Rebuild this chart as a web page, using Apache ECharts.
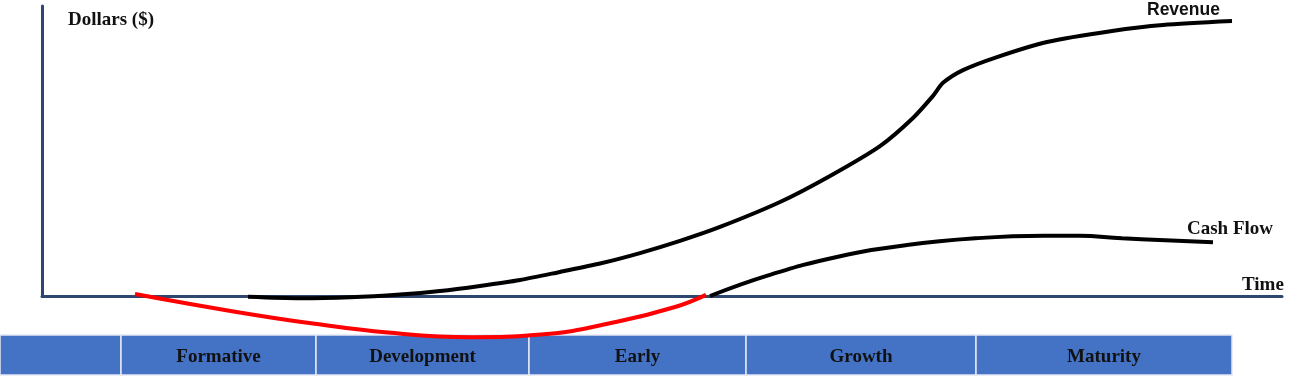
<!DOCTYPE html>
<html><head><meta charset="utf-8">
<script src="https://cdn.jsdelivr.net/npm/echarts@6/dist/echarts.min.js"></script>
<style>html,body{margin:0;padding:0;background:#fff}#c{width:1300px;height:378px}</style>
</head><body><div id="c"></div>
<script>
// Time (arbitrary units) vs Dollars (arbitrary units)
const revenue = [[20.6,-0.3],[25.8,-0.8],[30.8,-0.45],[35.8,0.5],[39.8,1.7],[43.8,3.45],[47.8,5.5],[51.8,8.3],[55.8,11.2],[59.8,14.8],[63.8,19.0],[67.8,23.8],[73.8,32.4],[78.8,41.4],[83.8,51.7],[87.1,61.4],[89.1,69.0],[90.1,73.5],[92.1,77.9],[95.5,82.4],[100.5,87.6],[107.0,91.4],[112.1,93.45],[119.0,94.8]];
const cashNegative = [[9.3,0.7],[19.3,-5.4],[26.9,-9.4],[34.6,-12.6],[43.0,-14.2],[49.9,-13.3],[57.5,-8.9],[63.3,-3.8],[66.4,0.4]];
const cashPositive = [[66.8,0],[72.7,7.2],[79.6,13.55],[86.5,17.6],[93.35,19.9],[100.2,20.8],[103.7,20.8],[108.0,19.9],[117.1,18.5]];
const stageNames = ['', 'Formative', 'Development', 'Early', 'Growth', 'Maturity'];
const stageBounds = [-4.2, 7.9, 27.4, 48.7, 70.4, 93.4, 119.0];
const bandRange = [-13.45, -27.24];
const yAxisTitle = 'Dollars ($)';
const xAxisTitle = 'Time';
const seriesNames = ['Revenue', 'Cash Flow'];

const stageData = stageNames.map((n, i) => [stageBounds[i], stageBounds[i + 1], bandRange[0], bandRange[1]]);
const navy = '#2E4670';
const serif = '"Liberation Serif", "Times New Roman", serif';

const chart = echarts.init(document.getElementById('c'), null, {renderer: 'canvas'});
chart.setOption({
  animation: false,
  grid: {left: 42, right: 18, top: 6, bottom: 82},
  xAxis: {type: 'value', min: 0, max: 124,
    axisLine: {show: true, onZero: false, lineStyle: {color: navy, width: 3}},
    axisTick: {show: false}, axisLabel: {show: false}, splitLine: {show: false}},
  yAxis: {type: 'value', min: 0, max: 100,
    axisLine: {show: true, lineStyle: {color: navy, width: 3}},
    axisTick: {show: false}, axisLabel: {show: false}, splitLine: {show: false}},
  series: [
    {type: 'custom', clip: false, data: stageData, encode: {x: [0, 1], y: [2, 3]},
      renderItem: function (params, api) {
        const p0 = api.coord([api.value(0), api.value(2)]);
        const p1 = api.coord([api.value(1), api.value(3)]);
        return {type: 'group', children: [
          {type: 'rect', shape: {x: p0[0], y: p0[1], width: p1[0] - p0[0], height: p1[1] - p0[1]},
            style: {fill: '#4472C4', stroke: '#E3E8F3', lineWidth: 1.5}},
          {type: 'text', style: {text: stageNames[params.dataIndex], x: (p0[0] + p1[0]) / 2, y: (p0[1] + p1[1]) / 2 + 2,
            align: 'center', verticalAlign: 'middle', font: 'bold 19px ' + serif, fill: '#111'}}
        ]};
      }, z: 1},
    {type: 'line', name: seriesNames[0], data: revenue, smooth: 0.25, showSymbol: false, clip: false,
      lineStyle: {color: '#000', width: 4}, z: 3},
    {type: 'line', name: seriesNames[1], data: cashNegative, smooth: 0.45, showSymbol: false, clip: false,
      lineStyle: {color: '#FF0000', width: 4}, z: 4},
    {type: 'line', name: seriesNames[1], data: cashPositive, smooth: 0.45, showSymbol: false, clip: false,
      lineStyle: {color: '#000', width: 4}, z: 3}
  ],
  graphic: [
    {type: 'text', left: 68, top: 11, style: {text: yAxisTitle, font: 'bold 19px ' + serif, fill: '#111'}},
    {type: 'text', left: 1242, top: 276, style: {text: xAxisTitle, font: 'bold 19px ' + serif, fill: '#111'}},
    {type: 'text', left: 1147, top: 1, style: {text: seriesNames[0], font: 'bold 17.5px "Liberation Sans", Arial, sans-serif', fill: '#111'}},
    {type: 'text', left: 1187, top: 220, style: {text: seriesNames[1], font: 'bold 19px ' + serif, fill: '#111'}}
  ]
});
</script>
</body></html>
